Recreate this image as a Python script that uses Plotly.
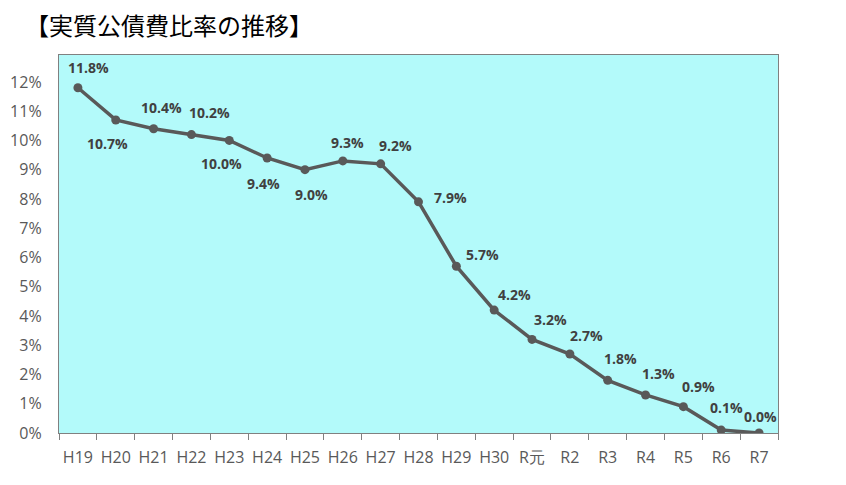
import plotly.graph_objects as go

# 実質公債費比率（%）
years = ["H19", "H20", "H21", "H22", "H23", "H24", "H25", "H26", "H27", "H28",
         "H29", "H30", "R元", "R2", "R3", "R4", "R5", "R6", "R7"]
ratio = [11.8, 10.7, 10.4, 10.2, 10.0, 9.4, 9.0, 9.3, 9.2, 7.9,
         5.7, 4.2, 3.2, 2.7, 1.8, 1.3, 0.9, 0.1, 0.0]
y_ticks = list(range(0, 13))

# label offsets (px) from each point
label_dx = [11, -8, 8, 18, -8, -4, 7, 5, 15, 32, 26, 20, 18, 17, 13, 13, 15, 5, 1]
label_dy = [-20, 24, -21, -22, 23, 26, 25, -18, -18, -4, -12, -16, -20, -19, -22, -21, -20, -23, -17]

fig = go.Figure()
fig.add_trace(go.Scatter(
    x=years,
    y=ratio,
    mode="lines+markers",
    line=dict(color="#595959", width=3.5),
    marker=dict(color="#595959", size=9),
    hoverinfo="skip",
))

for yr, v, dx, dy in zip(years, ratio, label_dx, label_dy):
    fig.add_annotation(
        x=yr, y=v, text=f"<b>{v:.1f}%</b>", showarrow=False,
        xshift=dx, yshift=-dy,
        font=dict(family="Open Sans, sans-serif", size=14, color="#404040"),
    )

# page body adds an 8px offset, margins compensate for it
fig.update_layout(
    width=846, height=485,
    margin=dict(l=51, r=76, t=47, b=60),
    paper_bgcolor="white",
    plot_bgcolor="#b3fafa",
    showlegend=False,
    title=dict(
        text="【実質公債費比率の推移】",
        x=0.02, xanchor="left", y=0.961, yanchor="middle",
        font=dict(family="Noto Sans CJK JP", size=24, color="#000000", weight=400),
    ),
)

fig.update_xaxes(
    type="category",
    range=[-0.5, len(years) - 0.5],
    showline=True, mirror=True, linecolor="#808080", linewidth=1.3,
    ticks="outside", tickson="boundaries", ticklen=6, tickcolor="#808080",
    showgrid=False, tickangle=0, automargin=False, ticklabelstandoff=10,
    tickfont=dict(family="Open Sans, sans-serif", size=16, color="#595959"),
)
fig.update_yaxes(
    range=[0, 12.92],
    tickvals=y_ticks,
    ticktext=[f"{t}%" for t in y_ticks],
    showline=True, mirror=True, linecolor="#808080", linewidth=1.3,
    showgrid=False, zeroline=False, automargin=False,
    ticks="", ticklabelstandoff=13,
    tickfont=dict(family="Open Sans, sans-serif", size=16, color="#595959"),
)

fig.write_html("out.html")
